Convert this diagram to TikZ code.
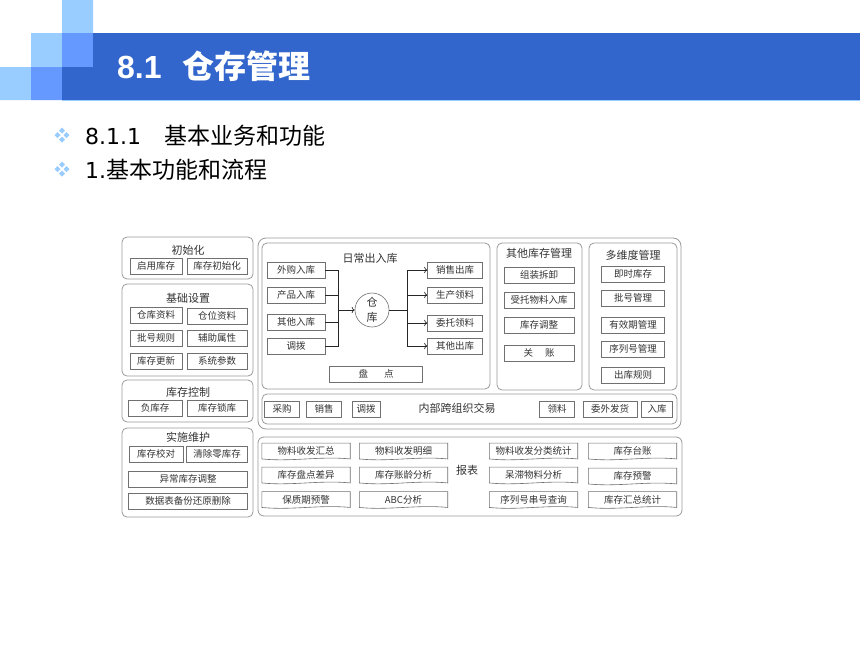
\documentclass[tikz,border=0pt]{standalone}
\usepackage{fontspec}
\setmainfont{DejaVu Sans}
\newfontfamily\cjk{Noto Sans CJK SC}
\newfontfamily\arial{Liberation Sans}
\usetikzlibrary{arrows.meta}

\definecolor{hdrdark}{HTML}{3366CC}
\definecolor{hdrmid}{HTML}{6699FF}
\definecolor{hdrlight}{HTML}{99CCFF}
\definecolor{linegray}{HTML}{707070}
\definecolor{framegray}{HTML}{9A9A9A}
\definecolor{txtgray}{HTML}{333333}

\begin{document}
\begin{tikzpicture}[x=1pt,y=-1pt,
  itembox/.style={draw=linegray,line width=0.6pt,inner sep=0pt,minimum height=16pt,
    font=\cjk\fontsize{9.5}{11}\selectfont,text=txtgray},
  docbox/.style={inner sep=0pt,minimum width=88pt,minimum height=15.5pt,
    font=\cjk\fontsize{9.5}{11}\selectfont,text=txtgray},
  groupframe/.style={draw=framegray,line width=0.8pt,rounded corners=5pt},
  grouptitle/.style={inner sep=0pt,font=\cjk\fontsize{11}{14}\selectfont,text=txtgray},
  conn/.style={draw=black!85,line width=0.7pt}]
\fill[white] (0,0) rectangle (860,645);
\useasboundingbox (0,0) rectangle (860,645);

% header
\fill[hdrlight] (62,0) rectangle (93,33) (31,33) rectangle (62,67) (0,67) rectangle (31,100);
\fill[hdrmid] (62,33) rectangle (93,67) (31,67) rectangle (62,100);
\fill[hdrdark] (93,33) rectangle (860,100) (62,67) rectangle (93,100);
\draw[hdrlight,line width=1pt] (62,100.5) -- (860,100.5);
\node[anchor=west,inner sep=0pt,text=white] (title) at (117,66)
  {{\arial\bfseries\fontsize{32}{36}\selectfont 8.1}\hspace{21pt}{\cjk\bfseries\fontsize{32}{36}\selectfont 仓存管理}};

% bullets
\foreach \y in {135,169} \foreach \dx/\dy in {-4.5/0,4.5/0,0/-4.5,0/4.5} {
  \fill[hdrlight] (62+\dx,\y+\dy-3) -- (62+\dx+3,\y+\dy) -- (62+\dx,\y+\dy+3) -- (62+\dx-3,\y+\dy) -- cycle;
}
\node[anchor=west,inner sep=0pt] (sub1) at (85,136)
  {{\fontsize{22}{26}\selectfont 8.1.1}\hspace{23pt}{\cjk\fontsize{23}{26}\selectfont 基本业务和功能}};
\node[anchor=west,inner sep=0pt] (sub2) at (85,170)
  {{\fontsize{22}{26}\selectfont 1.}{\cjk\fontsize{23}{26}\selectfont 基本功能和流程}};

% frames
\draw[groupframe] (122,237) rectangle (253,279);
\draw[groupframe] (122,284) rectangle (253,376);
\draw[groupframe] (122,380) rectangle (253,422);
\draw[groupframe] (122,428) rectangle (253,517);
\draw[groupframe,rounded corners=8pt] (258,238) rectangle (681,429);
\draw[groupframe] (262,243) rectangle (490,389);
\draw[groupframe] (497,243) rectangle (582,390);
\draw[groupframe] (589,243) rectangle (677,390);
\draw[groupframe] (262,394) rectangle (677,424);
\draw[groupframe,rounded corners=6pt] (258,437) rectangle (682,516);

\foreach \n/\x/\y/\t in {tinit/188/250/初始化, tbase/188/298/基础设置, tctrl/188/392/库存控制,
  tmaint/188/437/实施维护, tdaily/370/258/日常出入库, tother/539/253/其他库存管理,
  tmulti/633/255/多维度管理, ttrade/457/408/内部跨组织交易, treport/467/470/报表}
  \node[grouptitle] (\n) at (\x,\y) {\t};

% items
\foreach \n/\x/\y/\w/\t in {qyks/156/266/52/启用库存, kscsh/217/266/60/库存初始化,
  ckzl/156/315/52/仓库资料, cwzl/217/316/60/仓位资料,
  phgz/156/338/52/批号规则, fzsx/217/338/60/辅助属性,
  ksgx/156/361/52/库存更新, xtcs/217/361/60/系统参数,
  fkc/155/408/54/负库存, kssk/217/408/60/库存锁库,
  ksjd/156/454/54/库存校对, qclkc/217/454/61/清除零库存,
  yctz/188/479/119/异常库存调整, sjbf/188/501/119/数据表备份还原删除,
  wgrk/296/270/58/外购入库, cprk/296/295/58/产品入库, qtrk/296/322/58/其他入库, db/296/346/58/调拨,
  xsck/455/270/55/销售出库, scll/455/295/55/生产领料, wtll/455/323/55/委托领料, qtck/455/346/55/其他出库,
  pd/376/374/93/盘\hspace{16pt}点,
  zzcx/539/275/70/组装拆卸, stwl/539/300/70/受托物料入库, kstz/539/325/70/库存调整, gz/539/353/70/关\hspace{12pt}账,
  jsks/633/274/63/即时库存, phgl/633/298/63/批号管理, yxqgl/633/325/63/有效期管理,
  xlhgl/633/349/63/序列号管理, ckgz/633/375/63/出库规则,
  cg/282/409/35/采购, xs/324/409/35/销售, dbj/366/409/28/调拨,
  lingl/557/409/35/领料, wwfh/610/409/54/委外发货, rku/657/409/31/入库}
  \node[itembox,minimum width=\w pt] (\n) at (\x,\y) {\t};

\node[draw=linegray,line width=0.6pt,circle,minimum size=34pt,inner sep=0pt,align=center,
  font=\cjk\fontsize{11}{15}\selectfont,text=txtgray] (ck) at (372,310) {仓\\库};

% flows
\coordinate (jin) at (338,310);
\coordinate (jout) at (407,310);
\foreach \n in {wgrk,cprk,qtrk,db} \draw[conn] (\n.east) -| (jin);
\draw[conn,-{To[length=3pt]}] (jin) -- (ck.west);
\draw[conn] (ck.east) -- (jout);
\foreach \n in {xsck,scll,wtll,qtck} \draw[conn,-{To[length=3pt]}] (jout) |- (\n.west);

% reports
\foreach \n/\x/\y/\t in {rpa/306/451/物料收发汇总, rpb/306/475/库存盘点差异, rpc/306/499.5/保质期预警,
  rpd/403.5/451/物料收发明细, rpe/403.5/475/库存账龄分析, rpf/403.5/499.5/ABC分析,
  rpg/533.5/451/物料收发分类统计, rph/533.5/475/呆滞物料分析, rpi/533.5/499.5/序列号串号查询,
  rpj/632.5/451/库存台账, rpk/632.5/476/库存预警, rpl/632.5/499.5/库存汇总统计} {
  \node[docbox] (\n) at (\x,\y) {\t};
  \draw[linegray,line width=0.6pt] (\n.north west) -- (\n.north east) -- (\n.south east)
    .. controls +(-30,-3) and +(30,3) .. (\n.south west) -- cycle;
}
\end{tikzpicture}
\end{document}
